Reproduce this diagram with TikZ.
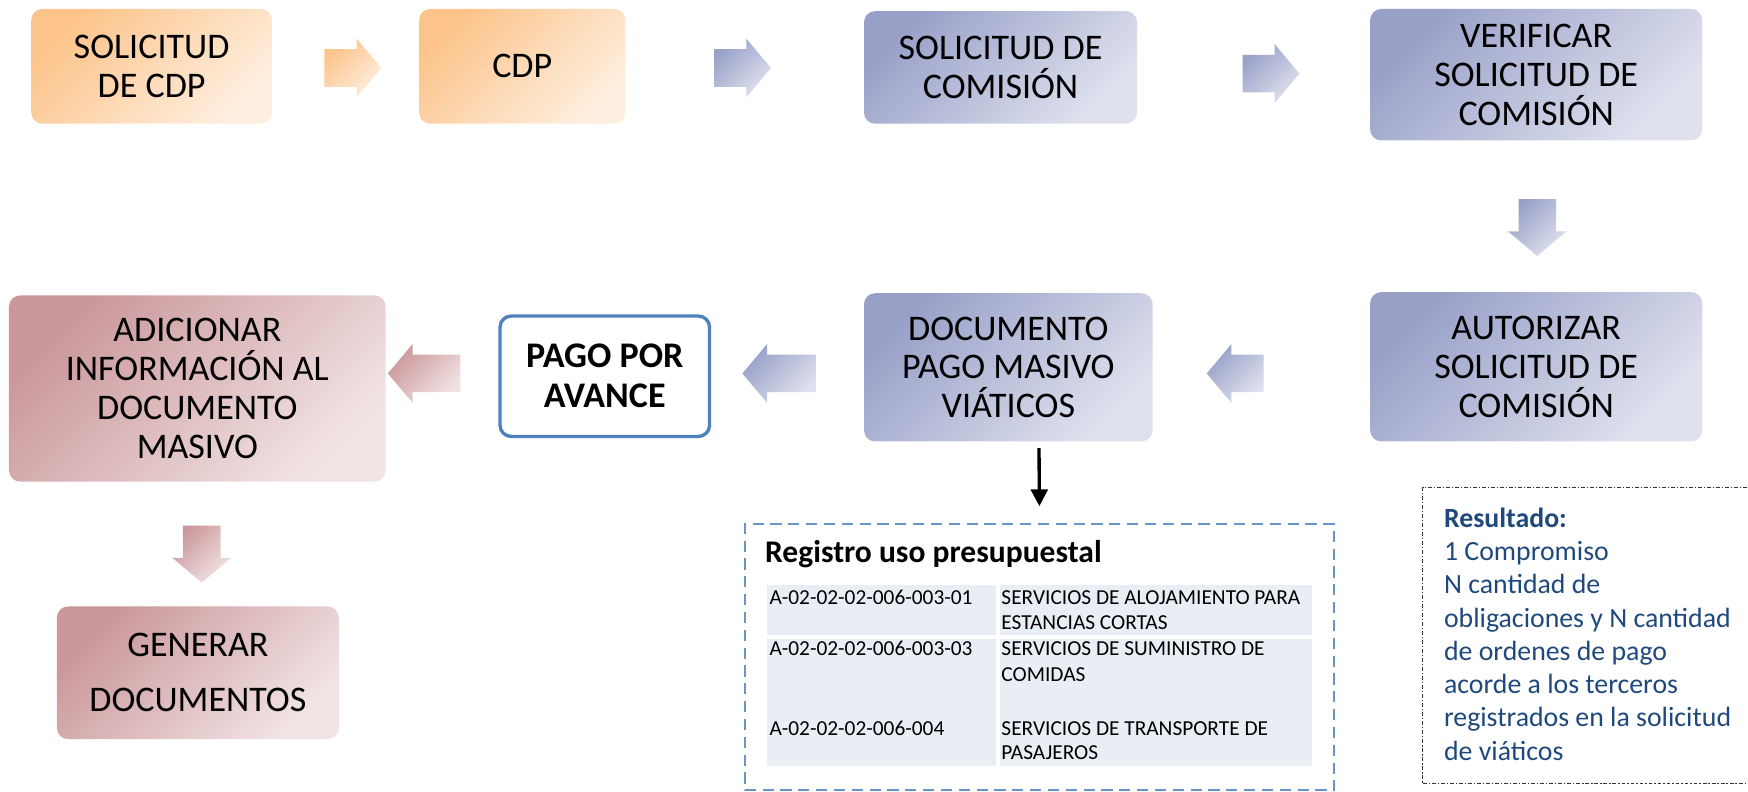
\documentclass[tikz,border=0pt]{standalone}
\usepackage{fontspec}
\setmainfont{Carlito}
\usetikzlibrary{shapes.arrows,arrows.meta}
\definecolor{orgA}{HTML}{FCC48A}
\definecolor{orgB}{HTML}{FEEEDF}
\definecolor{bluA}{HTML}{98A0C8}
\definecolor{bluB}{HTML}{DFE2EE}
\definecolor{redA}{HTML}{CA979A}
\definecolor{redB}{HTML}{F2E4E4}
\definecolor{frameblue}{HTML}{4F81BD}
\definecolor{tablefill}{HTML}{E9EDF4}
\definecolor{resblue}{HTML}{1F497D}
\begin{document}
\begin{tikzpicture}[x=0.02cm,y=-0.02cm,
  stepbox/.style={rounded corners=0.2cm, align=center, inner sep=0pt, font=\fontsize{18.4}{19.8}\selectfont},
  orgbox/.style={stepbox, top color=orgA, bottom color=orgB, shading angle=45},
  blubox/.style={stepbox, top color=bluA, bottom color=bluB, shading angle=45},
  redbox/.style={stepbox, top color=redA, bottom color=redB, shading angle=45},
  barrow/.style={single arrow, inner xsep=0pt, inner ysep=0.33cm, minimum height=1.02cm, single arrow head extend=0.19cm, single arrow tip angle=100},
  downarrow/.style={shape border rotate=270, inner xsep=0.33cm, inner ysep=0pt},
  orgarrow/.style={barrow, top color=orgA, bottom color=orgB, shading angle=45},
  bluarrow/.style={barrow, top color=bluA, bottom color=bluB, shading angle=45},
  redarrow/.style={barrow, top color=redA, bottom color=redB, shading angle=45},
  cell/.style={anchor=west, inner sep=0pt, text height=0.7em, text depth=0.2em, font=\fontsize{10.9}{12.5}\selectfont},
]
\useasboundingbox (0,0) rectangle (1568,710);
\clip (0,0) rectangle (1568,710);
\node[orgbox, minimum width=4.32cm, minimum height=2.06cm] (solcdp) at (136,59.5){SOLICITUD\\DE CDP};
\node[orgbox, minimum width=3.70cm, minimum height=2.06cm] (cdp) at (468.5,59.5){CDP};
\node[blubox, minimum width=4.90cm, minimum height=2.02cm] (solcom) at (897.5,60.5){SOLICITUD DE\\COMISIÓN};
\node[blubox, minimum width=5.96cm, minimum height=2.36cm] (verif) at (1378,67){VERIFICAR\\SOLICITUD DE\\COMISIÓN};
\node[blubox, minimum width=5.96cm, minimum height=2.68cm] (autor) at (1378,329){AUTORIZAR\\SOLICITUD DE\\COMISIÓN};
\node[blubox, minimum width=5.18cm, minimum height=2.66cm] (docpago) at (904.5,329.5){DOCUMENTO\\PAGO MASIVO\\VIÁTICOS};
\node[draw=frameblue, line width=0.06cm, rounded corners=0.2cm, align=center, inner sep=0pt,
  minimum width=3.76cm, minimum height=2.16cm, font=\bfseries\fontsize{18.4}{20.4}\selectfont] (pago) at (542.5,337.5){PAGO POR\\AVANCE};
\node[redbox, minimum width=6.76cm, minimum height=3.34cm] (adic) at (177,348.5){ADICIONAR\\INFORMACIÓN AL\\DOCUMENTO\\MASIVO};
\node[redbox, minimum width=5.06cm, minimum height=2.38cm, font=\fontsize{18.4}{28}\selectfont] (gener) at (177.5,603.5){GENERAR\\DOCUMENTOS};
\node[orgarrow] (a1) at (309.5,61){};
\node[bluarrow] (a2) at (659,61){};
\node[bluarrow] (a3) at (1133,66){};
\node[bluarrow, downarrow] (a4) at (1379,197){};
\node[bluarrow, shape border rotate=180] (a5) at (1115,335){};
\node[bluarrow, shape border rotate=180, minimum height=1.32cm] (a6) at (706,335){};
\node[redarrow, shape border rotate=180, minimum height=1.30cm] (a7) at (387.5,335){};
\node[redarrow, downarrow] (a8) at (181,490){};
\node[draw=frameblue!85, line width=0.04cm, dash pattern=on 0.2cm off 0.12cm, minimum width=10.58cm, minimum height=4.78cm, inner sep=0pt] (reg) at (932.5,589.5){};
\coordinate (atop) at (932,402);
\draw[line width=0.06cm, shorten >=0.3cm, -{Triangle[length=0.3cm,width=0.3cm]}] (atop) -- (reg.north);
\node[anchor=west, inner sep=0pt, font=\bfseries\fontsize{16.1}{19}\selectfont] (regtit) at (686,497){Registro uso presupuestal};
\fill[tablefill] (688,525) rectangle (893,570);
\fill[tablefill] (897,525) rectangle (1177,570);
\fill[tablefill] (688,573) rectangle (893,687);
\fill[tablefill] (897,573) rectangle (1177,687);
\node[cell] (c1a) at (690,538){A-02-02-02-006-003-01};
\node[cell] (c1b) at (898,538){SERVICIOS DE ALOJAMIENTO PARA};
\node[cell] (c1c) at (898,560){ESTANCIAS CORTAS};
\node[cell] (c2a) at (690,584){A-02-02-02-006-003-03};
\node[cell] (c2b) at (898,584){SERVICIOS DE SUMINISTRO DE};
\node[cell] (c2c) at (898,607){COMIDAS};
\node[cell] (c3a) at (690,655){A-02-02-02-006-004};
\node[cell] (c3b) at (898,655){SERVICIOS DE TRANSPORTE DE};
\node[cell] (c3c) at (898,677){PASAJEROS};
\draw[black!80, line width=0.4pt, dash pattern=on 2pt off 1pt on 0.6pt off 1pt] (1276,437) rectangle (1580,703);
\node[anchor=north west, align=left, inner sep=0pt, text=resblue, font=\fontsize{14.2}{17}\selectfont] (res) at (1295,455){\textbf{Resultado:}\\1 Compromiso\\N cantidad de\\obligaciones y N cantidad\\de ordenes de pago\\acorde a los terceros\\registrados en la solicitud\\de viáticos};
\end{tikzpicture}
\end{document}
